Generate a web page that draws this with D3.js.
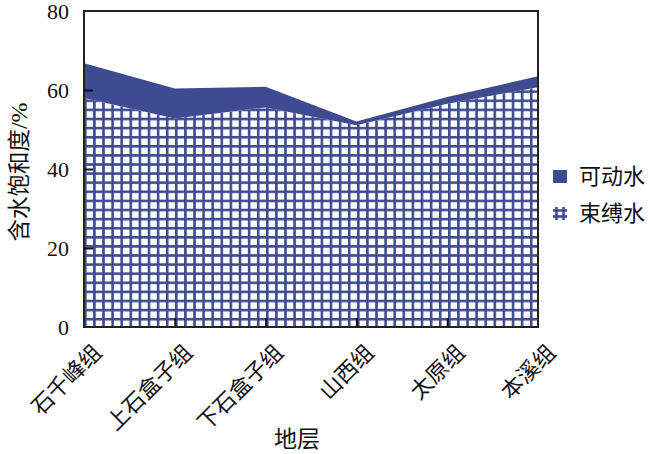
<!DOCTYPE html>
<html><head><meta charset="utf-8">
<script src="https://cdn.jsdelivr.net/npm/d3@7"></script>
<style>body{margin:0;background:#fff}</style>
</head><body>
<svg id="c" width="650" height="454"></svg>
<script>
const categories = ["石千峰组","上石盒子组","下石盒子组","山西组","太原组","本溪组"];
const totalValues = [66.8, 60.4, 60.8, 52.0, 58.2, 63.5];   // 可动水 top (total saturation)
const boundValues = [58.0, 52.8, 55.6, 51.1, 56.5, 60.7];   // 束缚水
const yTicks = [0, 20, 40, 60, 80];
const seriesNames = ["可动水","束缚水"];

const svg = d3.select("#c");
const L = 84, R = 538, T = 11, B = 327;
const blue = "#3f4b91";
const cjk = "'Noto Sans CJK SC',sans-serif";
const serif = "'Liberation Serif','Times New Roman',serif";
const x = d3.scalePoint().domain(categories).range([L, R]).padding(0);
const y = d3.scaleLinear().domain([0, 80]).range([B, T]);

const defs = svg.append("defs");
const pat = defs.append("pattern").attr("id","grid").attr("patternUnits","userSpaceOnUse")
  .attr("width",9.1).attr("height",9.1).attr("x",L).attr("y",B);
pat.append("rect").attr("width",9.1).attr("height",9.1).attr("fill","#fff");
pat.append("rect").attr("x",0).attr("y",0).attr("width",2.6).attr("height",9.1).attr("fill",blue);
pat.append("rect").attr("x",0).attr("y",0).attr("width",9.1).attr("height",2.6).attr("fill",blue);
defs.append("clipPath").attr("id","clip").append("rect").attr("x",L).attr("y",T).attr("width",R-L).attr("height",B-T);

const data = categories.map((c,i)=>({c, t: totalValues[i], b: boundValues[i]}));
const g = svg.append("g").attr("clip-path","url(#clip)");
g.append("path").datum(data)
  .attr("d", d3.area().x(d=>x(d.c)).y0(y(0)).y1(d=>y(d.b)))
  .attr("fill","url(#grid)");
g.append("path").datum(data)
  .attr("d", d3.area().x(d=>x(d.c)).y0(d=>y(d.b)).y1(d=>y(d.t)))
  .attr("fill", blue);

// frame
svg.append("rect").attr("x",L).attr("y",T).attr("width",R-L).attr("height",B-T)
  .attr("fill","none").attr("stroke","#222").attr("stroke-width",2);

// y axis
const yAxis = d3.axisLeft(y).tickValues(yTicks).tickSize(-9);
const ya = svg.append("g").attr("transform",`translate(${L},0)`).call(yAxis);
ya.select(".domain").remove();
ya.selectAll(".tick line").attr("stroke","#111").attr("stroke-width",2)
  .filter(d=>d===0||d===80).remove();
ya.selectAll(".tick text").attr("font-family",serif)
  .attr("font-size",22).attr("fill","#111").attr("x",-15);

// x axis
const xAxis = d3.axisBottom(x).tickSize(-9).tickFormat("");
const xa = svg.append("g").attr("transform",`translate(0,${B})`).call(xAxis);
xa.select(".domain").remove();
xa.selectAll(".tick line").attr("stroke","#111").attr("stroke-width",2)
  .filter((d,i)=>i===0||i===categories.length-1).remove();
svg.append("g").selectAll("text").data(categories).join("text")
  .attr("transform", d=>`translate(${x(d)+19},354) rotate(-45)`)
  .attr("text-anchor","end")
  .attr("font-family",cjk).attr("font-size",22).attr("fill","#111")
  .text(d=>d);

// axis titles
svg.append("text").attr("x",297).attr("y",447).attr("text-anchor","middle")
  .attr("font-family",cjk).attr("font-size",23).attr("fill","#111").text("地层");
const yt = svg.append("text").attr("transform","translate(27,172) rotate(-90)").attr("text-anchor","middle")
  .attr("font-family",cjk).attr("font-size",22.5).attr("fill","#111");
yt.append("tspan").text("含水饱和度");
yt.append("tspan").attr("font-family",serif).attr("font-size",24).text("/%");

// legend
const lg = svg.append("g");
lg.append("rect").attr("x",553).attr("y",170).attr("width",14).attr("height",13).attr("fill",blue);
const hx = 553, hy = 207;
[[hx+3.5,hy,hx+3.5,hy+13],[hx+10.5,hy,hx+10.5,hy+13],[hx,hy+3.5,hx+14,hy+3.5],[hx,hy+9.5,hx+14,hy+9.5]].forEach(l=>{
  lg.append("line").attr("x1",l[0]).attr("y1",l[1]).attr("x2",l[2]).attr("y2",l[3])
    .attr("stroke",blue).attr("stroke-width",2.6);
});
lg.selectAll("text").data(seriesNames).join("text")
  .attr("x",579).attr("y",(d,i)=>176+i*37).attr("dy","0.35em")
  .attr("font-family",cjk).attr("font-size",22).attr("fill","#111")
  .text(d=>d);
</script>
</body></html>
